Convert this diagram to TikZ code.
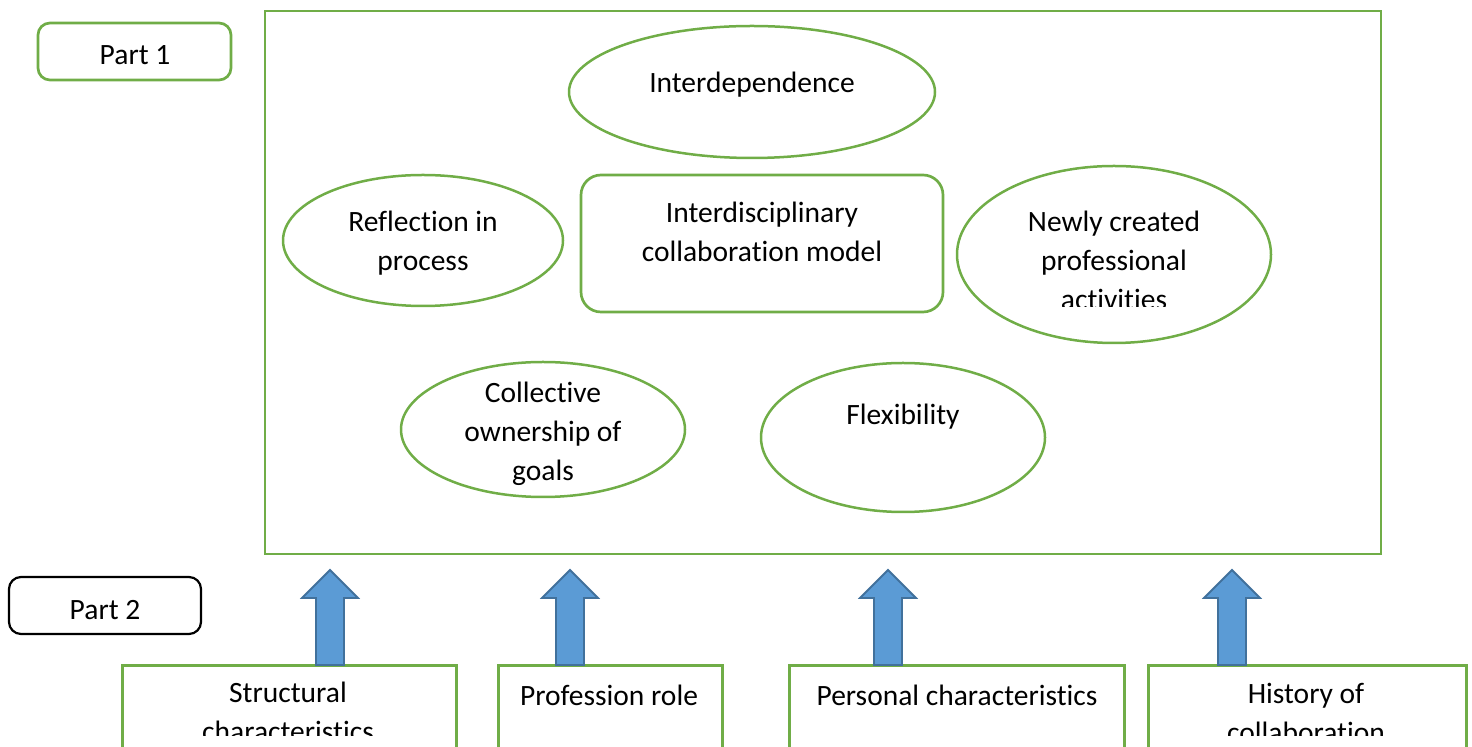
\documentclass[tikz,border=0pt]{standalone}
\usepackage{fontspec}
\setmainfont[Ligatures=NoCommon]{Carlito}
\usepackage{xcolor}
\usepackage{tikz}
\usetikzlibrary{shapes,positioning}
\definecolor{leafgreen}{HTML}{70AD47}
\definecolor{arrowblue}{HTML}{5B9BD5}
\definecolor{arrowedge}{HTML}{41719C}

\begin{document}
\begin{tikzpicture}[x = 0.5pt, y = -0.5pt,
    frame/.style = {draw = leafgreen, line width = 1.4pt, inner sep = 0pt},
    oval/.style = {ellipse, draw = leafgreen, line width = 1.25pt, inner sep = 0pt},
    roundbox/.style = {rectangle, rounded corners = 6pt, draw = leafgreen, line width = 1.35pt, inner sep = 0pt},
    factorbox/.style = {rectangle, draw = leafgreen, line width = 1.35pt, inner sep = 0pt, anchor = north west},
    txt/.style = {font = \fontsize{14.75pt}{19.5pt}\selectfont, align = center, inner sep = 0pt, anchor = base},
    blockarrow/.style = {fill = arrowblue, draw = arrowedge, line width = 0.9pt, line join = miter}]
  \clip (0,0) rectangle (1472,747);
    % Parts
    \node[roundbox, minimum width = 96.5pt, minimum height = 28.5pt] (part1) at (134.5,51.5) {};
    \node[roundbox, draw = black, line width = 1.1pt, minimum width = 96pt, minimum height = 28.5pt] (part2) at (105,605.5) {};
    \node[txt] (part1 text) at (135,65) {Part 1};
    \node[txt] (part2 text) at (105,620) {Part 2};
    % Model
    \node[frame, minimum width = 558pt, minimum height = 271.5pt] (model) at (823,282.5) {};
    \node[oval, minimum width = 183pt, minimum height = 66pt] (interdep) at (752,92) {};
    \node[oval, minimum width = 140pt, minimum height = 65.5pt] (reflect) at (423,240.5) {};
    \node[roundbox, rounded corners = 10pt, minimum width = 181pt, minimum height = 68.5pt] (core) at (762,243.5) {};
    \node[oval, minimum width = 157pt, minimum height = 88.5pt] (newly) at (1114,254.5) {};
    \node[oval, minimum width = 142pt, minimum height = 67.5pt] (goals) at (543,429.5) {};
    \node[oval, minimum width = 142pt, minimum height = 74.5pt] (flex) at (903,437.5) {};
    % text nodes sit on the baseline of their last line
    \node[txt] (interdep text) at (752,93) {Interdependence};
    \node[txt] (reflect text) at (423,271) {Reflection in\\process};
    \node[txt] (core text) at (762,262) {Interdisciplinary\\collaboration model};
    \begin{scope}
      \clip (957,166) rectangle (1271,307);
      \node[txt] (newly text) at (1114,310) {Newly created\\professional\\activities};
    \end{scope}
    \node[txt] (goals text) at (543,481) {Collective\\ownership of\\goals};
    \node[txt] (flex text) at (903,425) {Flexibility};
    % Factors
    \node[factorbox, minimum width = 167pt, minimum height = 70pt] (structural) at (121,664) {};
    \node[factorbox, minimum width = 112pt, minimum height = 70pt] (role) at (497,664) {};
    \node[factorbox, minimum width = 167.5pt, minimum height = 70pt] (personal) at (788,664) {};
    \node[factorbox, minimum width = 159pt, minimum height = 70pt] (history) at (1147,664) {};
    \begin{scope}
      \clip (0,0) rectangle (1472,736);
      \node[txt] (structural text) at (288,741) {Structural\\characteristics};
      \node[txt] (role text) at (609,705) {Profession role};
      \node[txt] (personal text) at (957,705) {Personal characteristics};
      \node[txt] (history text) at (1306,742) {History of\\collaboration};
    \end{scope}
    % Arrows
    \foreach \ax in {330,570,888,1232}
      \draw[blockarrow] (\ax,665) -- ++(-14,0) -- ++(0,-67) -- ++(-14,0)
        -- (\ax,570) -- (\ax+28,598) -- ++(-14,0) -- ++(0,67) -- cycle;
  \end{tikzpicture}
\end{document}
